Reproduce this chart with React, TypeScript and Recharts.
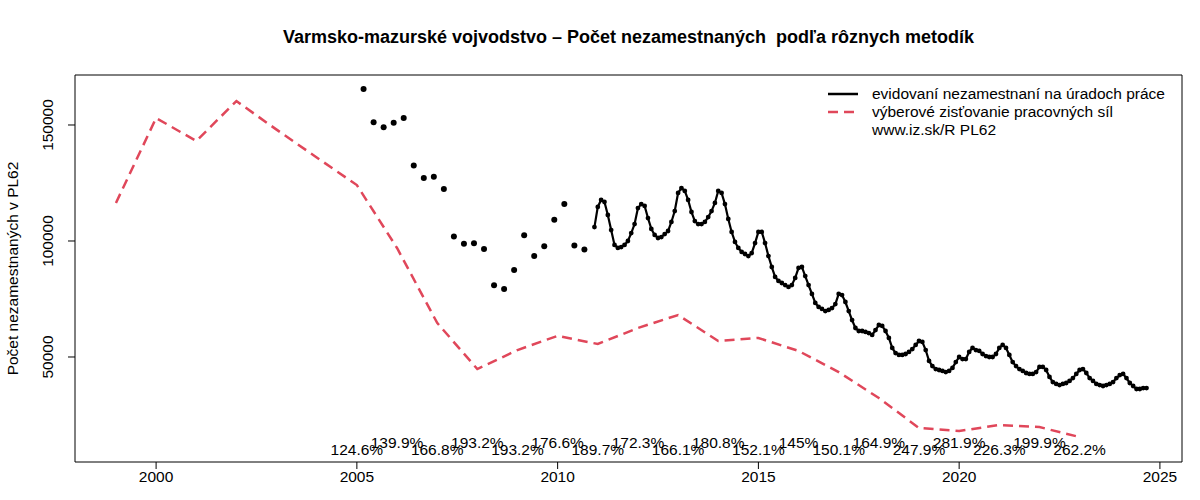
import React from 'react';
import {
  ComposedChart,
  Line,
  Scatter,
  XAxis,
  YAxis,
  Legend,
  ReferenceArea,
} from 'recharts';

// výberové zisťovanie pracovných síl (ročne)
const lfsYears = [1999, 2000, 2001, 2002, 2003, 2004, 2005, 2006, 2007, 2008, 2009, 2010, 2011, 2012, 2013, 2014, 2015, 2016, 2017, 2018, 2019, 2020, 2021, 2022, 2023];
const lfsValues = [116400, 153000, 143100, 160300, 148000, 136000, 124100, 97000, 64700, 44800, 53000, 59100, 55600, 62500, 68100, 56900, 58200, 52600, 43500, 32300, 19400, 18100, 20700, 19800, 15500];

// evidovaní nezamestnaní – štvrťročne 2005–2010 (marec, jún, sept, dec)
const regQuarterStart = 2005 + 2 / 12;
const regQuarterly = [165500, 151200, 149000, 151000, 153000, 132500, 127200, 127700, 122400, 101900, 98800, 99000, 96600, 80900, 79300, 87500, 102500, 93500, 97700, 109200, 115900, 98100, 96300];

// evidovaní nezamestnaní – mesačne od decembra 2010
const regMonthlyStart = 2010 + 11 / 12;
const reg2010 = [106000];
const reg2011 = [114700, 117700, 116800, 111200, 104700, 98300, 97000, 97400, 98300, 100000, 103400, 107300];
const reg2012 = [114200, 115900, 115100, 109900, 105200, 102600, 101300, 101700, 103000, 104300, 108200, 112900];
const reg2013 = [120700, 122800, 121600, 117700, 112500, 108600, 107300, 107300, 108200, 110300, 112900, 116400];
const reg2014 = [121600, 120700, 115900, 109500, 103900, 99600, 97000, 95300, 94400, 93500, 94800, 99100];
const reg2015 = [103900, 103900, 99100, 93500, 88800, 84500, 82800, 81900, 81000, 80200, 81000, 84100];
const reg2016 = [88400, 88800, 84900, 81000, 77200, 73300, 71600, 70700, 69800, 70300, 71100, 72800];
const reg2017 = [77200, 76700, 73700, 69800, 65900, 62500, 61200, 61200, 60800, 60300, 59500, 61600];
const reg2018 = [63800, 63400, 61200, 58200, 53900, 51700, 50900, 50900, 51300, 52200, 53400, 55200];
const reg2019 = [56900, 56500, 53000, 48300, 46100, 44800, 44400, 44000, 43500, 44000, 45300, 47800];
const reg2020 = [50000, 49100, 49100, 52200, 53900, 53000, 52600, 51300, 50400, 50000, 50000, 51300];
const reg2021 = [53900, 55200, 53900, 50900, 47800, 46100, 44800, 44000, 43100, 42700, 42700, 43500];
const reg2022 = [45700, 45700, 44400, 41400, 39200, 38400, 37900, 38400, 38800, 39700, 40900, 42700];
const reg2023 = [44400, 44800, 43100, 40900, 39700, 38400, 37900, 37500, 37900, 38400, 39200, 40900];
const reg2024 = [42200, 42700, 40900, 38800, 37500, 36200, 36200, 36600, 36600];

// pomer evidovaní / VZPS
const pctYears = [2005, 2006, 2007, 2008, 2009, 2010, 2011, 2012, 2013, 2014, 2015, 2016, 2017, 2018, 2019, 2020, 2021, 2022, 2023];
const pctLabels = ['124.6%', '139.9%', '166.8%', '193.2%', '193.2%', '176.6%', '189.7%', '172.3%', '166.1%', '180.8%', '152.1%', '145%', '150.1%', '164.9%', '247.9%', '281.9%', '226.3%', '199.9%', '262.2%'];

const xTicks = [2000, 2005, 2010, 2015, 2020, 2025];
const yTicks = [50000, 100000, 150000];

const RED = '#E0475A';
const FONT = '"Liberation Sans", Arial, Helvetica, sans-serif';
const X_DOMAIN: [number, number] = [1997.98, 2025.55];
const Y_DOMAIN: [number, number] = [4740, 171550];

const lfsData = lfsYears.map((t, i) => ({ t, v: lfsValues[i] }));
const quarterData = regQuarterly.map((v, i) => ({ t: regQuarterStart + i * 0.25, v }));
const monthlyValues = [
  ...reg2010, ...reg2011, ...reg2012, ...reg2013, ...reg2014, ...reg2015, ...reg2016,
  ...reg2017, ...reg2018, ...reg2019, ...reg2020, ...reg2021, ...reg2022, ...reg2023, ...reg2024,
];
const monthlyData = monthlyValues.map((v, i) => ({ t: regMonthlyStart + i / 12, v }));
const pctData = pctYears.map((t, i) => ({ t, v: i % 2 === 0 ? 10300 : 13300, label: pctLabels[i] }));

const YTick = (props: any) => {
  const { y, payload } = props;
  const x = 48;
  return (
    <text
      x={x}
      y={y}
      transform={`rotate(-90, ${x}, ${y})`}
      textAnchor="middle"
      dominantBaseline="central"
      fontSize={15.5}
      fontFamily={FONT}
      fill="#000"
    >
      {payload.value}
    </text>
  );
};

const PctLabel = (props: any) => {
  const { cx, cy, payload } = props;
  return (
    <text x={cx} y={cy} textAnchor="middle" dominantBaseline="central" fontSize={15.5} fontFamily={FONT} fill="#000">
      {payload.label}
    </text>
  );
};

const LegendBox = () => (
  <div style={{ fontFamily: FONT, fontSize: 15.5, lineHeight: '18px', color: '#000' }}>
    <div style={{ display: 'flex', alignItems: 'center' }}>
      <svg width={46} height={18}>
        <line x1={2} x2={32} y1={9} y2={9} stroke="#000" strokeWidth={2.5} />
      </svg>
      <span>evidovaní nezamestnaní na úradoch práce</span>
    </div>
    <div style={{ display: 'flex', alignItems: 'center' }}>
      <svg width={46} height={18}>
        <line x1={2} x2={32} y1={9} y2={9} stroke={RED} strokeWidth={2.5} strokeDasharray="10 6" />
      </svg>
      <span>výberové zisťovanie pracovných síl</span>
    </div>
    <div style={{ display: 'flex', alignItems: 'center' }}>
      <div style={{ width: 46 }} />
      <span>www.iz.sk/R PL62</span>
    </div>
  </div>
);

export default function App() {
  return (
    <div style={{ position: 'absolute', left: 0, top: 0, width: 1200, height: 500, background: '#fff' }}>
      <div
        style={{
          position: 'absolute',
          left: 75,
          width: 1107,
          top: 27,
          textAlign: 'center',
          fontFamily: FONT,
          fontWeight: 'bold',
          fontSize: 18,
          color: '#000',
          whiteSpace: 'pre',
        }}
      >
        {'Varmsko-mazurské vojvodstvo – Počet nezamestnaných  podľa rôznych metodík'}
      </div>
      <ComposedChart width={1200} height={500} margin={{ top: 75, right: 18, left: 0, bottom: 0 }}>
        <XAxis
          type="number"
          dataKey="t"
          domain={X_DOMAIN}
          ticks={xTicks}
          allowDataOverflow
          axisLine={false}
          tickSize={7}
          tickLine={{ stroke: '#000' }}
          height={38}
          tick={{ fill: '#000', fontSize: 15.5, fontFamily: FONT }}
        />
        <YAxis
          type="number"
          dataKey="v"
          domain={Y_DOMAIN}
          ticks={yTicks}
          allowDataOverflow
          axisLine={false}
          tickSize={7}
          tickLine={{ stroke: '#000' }}
          width={75}
          tick={<YTick />}
          label={{
            value: 'Počet nezamestnaných v PL62',
            angle: -90,
            position: 'center',
            dx: -25,
            style: { fill: '#000', fontSize: 15.5, fontFamily: FONT },
          }}
        />
        <ReferenceArea
          x1={X_DOMAIN[0]}
          x2={X_DOMAIN[1]}
          y1={Y_DOMAIN[0]}
          y2={Y_DOMAIN[1]}
          fill="none"
          stroke="#000"
          strokeWidth={1}
          ifOverflow="visible"
        />
        <Line
          data={lfsData}
          dataKey="v"
          stroke={RED}
          strokeWidth={2.5}
          strokeDasharray="10 6"
          dot={false}
          isAnimationActive={false}
          legendType="none"
        />
        <Scatter
          data={quarterData}
          dataKey="v"
          fill="#000"
          shape={(p: any) => <circle cx={p.cx} cy={p.cy} r={3} fill="#000" />}
          isAnimationActive={false}
          legendType="none"
        />
        <Line
          data={monthlyData}
          dataKey="v"
          stroke="#000"
          strokeWidth={2.2}
          dot={{ r: 2.4, fill: '#000', stroke: 'none' }}
          isAnimationActive={false}
          legendType="none"
        />
        <Scatter data={pctData} dataKey="v" shape={<PctLabel />} isAnimationActive={false} legendType="none" />
        <Legend
          layout="vertical"
          align="center"
          verticalAlign="middle"
          content={<LegendBox />}
          wrapperStyle={{ position: 'absolute', top: 85, left: 826, width: 360 }}
        />
      </ComposedChart>
    </div>
  );
}
